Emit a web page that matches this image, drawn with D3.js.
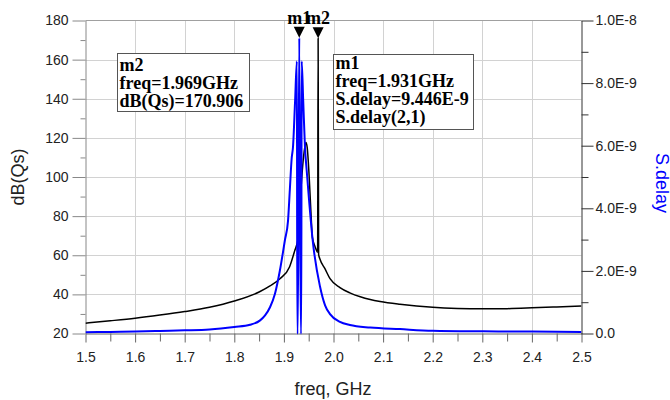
<!DOCTYPE html>
<html><head><meta charset="utf-8">
<script src="https://cdn.jsdelivr.net/npm/d3@7"></script>
<style>body{margin:0;background:#fff}svg{display:block}</style>
</head><body><svg id="c" width="670" height="400"></svg>
<script>
// ---- data ----
const freqTicks = [1.5,1.6,1.7,1.8,1.9,2.0,2.1,2.2,2.3,2.4,2.5];
const freqMinor = [1.55,1.65,1.75,1.85,1.95,2.05,2.15,2.25,2.35,2.45];
const leftTicks = [20,40,60,80,100,120,140,160,180];
const leftMinor = [30,50,70,90,110,130,150,170];
const rightTicks = [0,2e-9,4e-9,6e-9,8e-9,1e-8];
const rightTickLabels = ["0.0","2.0E-9","4.0E-9","6.0E-9","8.0E-9","1.0E-8"];
const rightMinor = [1e-9,3e-9,5e-9,7e-9,9e-9];

// dB(Qs) (left axis, black)
const qsFreq = [1.50,1.55,1.60,1.65,1.70,1.75,1.80,1.85,1.872,1.892,1.9113,1.9214,1.929,1.9335,1.938,1.942,1.9445,1.947,1.951,1.9545,1.9575,1.9627,1.968,1.969,1.970,1.9728,1.983,1.993,2.013,2.033,2.054,2.074,2.094,2.134,2.20,2.25,2.30,2.35,2.40,2.45,2.50];
const qsDb   = [25.3,26.5,27.8,29.4,31.2,33.4,36.6,41.2,44.3,48,54,62,69,90,106,115,117.6,115,100,82,69,64.5,61.5,170.906,60.5,58,53,48,43.5,40.8,38.8,37.4,36.4,35.0,33.4,32.8,32.6,32.7,33.1,33.6,34.1];

// S.delay(2,1) (right axis, blue)
const delayFreq = [1.50,1.55,1.60,1.65,1.70,1.75,1.80,1.8317,1.852,1.862,1.872,1.882,1.892,1.902,1.9083,1.912,1.9157,1.9183,1.9225,1.9262,1.9270,1.9280,1.931,1.934,1.935,1.9358,1.939,1.9425,1.946,1.950,1.958,1.9728,1.983,1.993,2.013,2.033,2.074,2.134,2.20,2.30,2.40,2.50];
const delayVal  = [0.04e-9,0.05e-9,0.06e-9,0.08e-9,0.10e-9,0.13e-9,0.21e-9,0.28e-9,0.42e-9,0.58e-9,0.84e-9,1.27e-9,2.02e-9,2.98e-9,3.6e-9,4.6e-9,5.6e-9,5.95e-9,7.4e-9,8.7e-9,0,0,9.446e-9,0,0,8.7e-9,7.4e-9,5.95e-9,5.2e-9,4.4e-9,2.98e-9,1.5e-9,0.9e-9,0.62e-9,0.37e-9,0.27e-9,0.19e-9,0.14e-9,0.09e-9,0.07e-9,0.06e-9,0.05e-9];

const markerNames = ["m1","m2"];
const markerFreq = [1.931,1.969];
const markerValue = [9.446e-9,170.906];
const markerAxis = ["right","left"];
const m1Text = ["m1","freq=1.931GHz","S.delay=9.446E-9","S.delay(2,1)"];
const m2Text = ["m2","freq=1.969GHz","dB(Qs)=170.906"];

// ---- chart ----
const svg = d3.select("#c");
const X0=85.5, X1=581.5, Y0=333.5, Y1=20.5;
const x = d3.scaleLinear().domain([1.5,2.5]).range([X0,X1]);
const yL = d3.scaleLinear().domain([20,180]).range([Y0,Y1]);
const yR = d3.scaleLinear().domain([0,1e-8]).range([Y0,Y1]);
const FONT = "Liberation Sans, Arial, sans-serif";
const SERIF = "Liberation Serif, Times New Roman, serif";

const g = svg.append("g");
g.selectAll(".vg").data(freqTicks.slice(1,-1)).join("line")
  .attr("x1",d=>Math.round(x(d))+0.5).attr("x2",d=>Math.round(x(d))+0.5)
  .attr("y1",Y1).attr("y2",Y0).attr("stroke","#d2d2d2").attr("stroke-width",1);
g.selectAll(".hg").data(leftTicks.slice(1,-1)).join("line")
  .attr("x1",X0).attr("x2",X1)
  .attr("y1",d=>Math.round(yL(d))+0.5).attr("y2",d=>Math.round(yL(d))+0.5)
  .attr("stroke","#d2d2d2").attr("stroke-width",1);
g.append("line").attr("x1",X0).attr("x2",X1).attr("y1",Y1).attr("y2",Y1)
  .attr("stroke","#a0a0a0");

function styleAxis(sel, lineColor){
  sel.selectAll("path").attr("stroke",lineColor);
  sel.selectAll("line").attr("stroke",lineColor);
  sel.selectAll("text").attr("font-family",FONT).attr("font-size",14).attr("fill","#222");
}
const ax = svg.append("g").attr("transform",`translate(0,${Y0})`)
  .call(d3.axisBottom(x).tickValues(freqTicks).tickFormat(d3.format(".1f")).tickSize(9).tickPadding(10).tickSizeOuter(0));
styleAxis(ax,"#666");
const axm = svg.append("g").attr("transform",`translate(0,${Y0})`)
  .call(d3.axisBottom(x).tickValues(freqMinor).tickFormat("").tickSize(8).tickSizeOuter(0));
styleAxis(axm,"#666"); axm.select("path").remove();

const al = svg.append("g").attr("transform",`translate(${X0},0)`)
  .call(d3.axisLeft(yL).tickValues(leftTicks).tickSize(13).tickPadding(4).tickSizeOuter(0));
styleAxis(al,"#888");
const alm = svg.append("g").attr("transform",`translate(${X0},0)`)
  .call(d3.axisLeft(yL).tickValues(leftMinor).tickFormat("").tickSize(5).tickSizeOuter(0));
styleAxis(alm,"#888"); alm.select("path").remove();

const ar = svg.append("g").attr("transform",`translate(${X1},0)`)
  .call(d3.axisRight(yR).tickValues(rightTicks).tickFormat((d,i)=>rightTickLabels[i]).tickSize(12).tickPadding(2).tickSizeOuter(0));
styleAxis(ar,"#333");
const arm = svg.append("g").attr("transform",`translate(${X1},0)`)
  .call(d3.axisRight(yR).tickValues(rightMinor).tickFormat("").tickSize(7).tickSizeOuter(0));
styleAxis(arm,"#333"); arm.select("path").remove();

svg.append("text").attr("x",333).attr("y",395).attr("text-anchor","middle")
  .attr("font-family",FONT).attr("font-size",18).attr("fill","#222").text("freq, GHz");
svg.append("text").attr("transform","translate(24,177) rotate(-90)").attr("text-anchor","middle")
  .attr("font-family",FONT).attr("font-size",18).attr("fill","#222").text("dB(Qs)");
svg.append("text").attr("transform","translate(656,183) rotate(90)").attr("text-anchor","middle")
  .attr("font-family",FONT).attr("font-size",18).attr("fill","#0000ff").text("S.delay");

svg.append("clipPath").attr("id","plot").append("rect")
  .attr("x",X0).attr("y",Y1-1).attr("width",X1-X0).attr("height",Y0-Y1+2);
const cg = svg.append("g").attr("clip-path","url(#plot)");
const qsData = qsFreq.map((f,i)=>[f,qsDb[i]]);
const dlData = delayFreq.map((f,i)=>[f,delayVal[i]]);
cg.append("path").datum(qsData)
  .attr("d",d3.line().x(d=>x(d[0])).y(d=>yL(d[1])).curve(d3.curveMonotoneX))
  .attr("fill","none").attr("stroke","#000").attr("stroke-width",1.5);
cg.append("path").datum(dlData)
  .attr("d",d3.line().x(d=>x(d[0])).y(d=>yR(d[1])).curve(d3.curveMonotoneX))
  .attr("fill","none").attr("stroke","#0000ff").attr("stroke-width",2);

markerNames.forEach((n,i)=>{
  const mx = x(markerFreq[i]);
  const my = markerAxis[i]==="right" ? yR(markerValue[i]) : yL(markerValue[i]);
  svg.append("path").attr("d",`M${mx},${my} L${mx-5.5},${my-11} L${mx+5.5},${my-11} Z`).attr("fill","#000");
});
markerNames.forEach((n,i)=>{
  svg.append("text").attr("x",x(markerFreq[i])).attr("y",24).attr("text-anchor","middle")
    .attr("font-family",SERIF).attr("font-weight","bold").attr("font-size",18).attr("fill","#000").text(n);
});

function box(bx,by,bw,bh,lines,ty){
  svg.append("rect").attr("x",bx+0.5).attr("y",by+0.5).attr("width",bw).attr("height",bh)
    .attr("fill","#fff").attr("stroke","#555").attr("stroke-width",1);
  lines.forEach((t,i)=>{
    svg.append("text").attr("x",bx+2.5).attr("y",ty+i*18.2)
      .attr("font-family",SERIF).attr("font-weight","bold").attr("font-size",18).attr("fill","#000").text(t);
  });
}
box(117,53,132,58,m2Text,70.5);
box(333,54,140,75,m1Text,68.5);
</script></body></html>
